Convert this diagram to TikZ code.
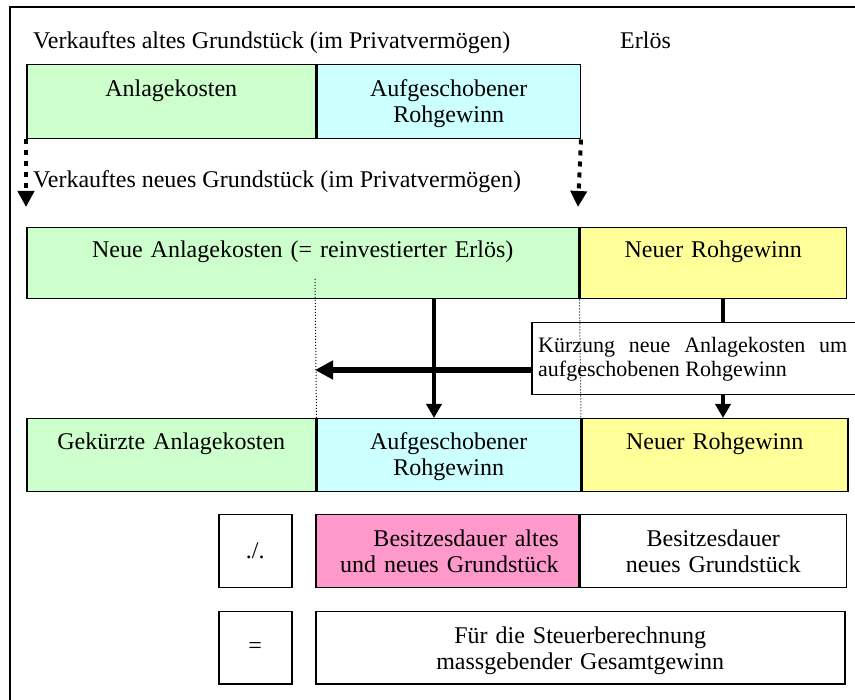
\documentclass[tikz,border=0pt]{standalone}
\usepackage{fontspec}
\setmainfont{Liberation Serif}
\usetikzlibrary{arrows.meta}
\usetikzlibrary{positioning}
\definecolor{gruen}{RGB}{204,255,204}
\definecolor{tuerkis}{RGB}{204,255,255}
\definecolor{gelb}{RGB}{255,255,153}
\definecolor{rosa}{RGB}{255,153,204}
\tikzset{cell/.style = {draw, line width = 1.5pt, inner sep = 0, anchor = north west}}
\tikzset{lbl/.style = {inner sep = 0, anchor = base, align = center, text width = 250pt}}
\tikzset{arr/.style = {line width = 4pt, -{Triangle[width = 15pt, length = 14pt]}}}
\tikzset{bigarr/.style = {line width = 6pt, -{Triangle[width = 18pt, length = 18pt]}}}
\tikzset{dotarr/.style = {line width = 4pt, dash pattern = on 5pt off 6pt, -{Triangle[width = 16pt, length = 16pt]}}}

\begin{document}
\begin{tikzpicture}[x = 1pt, y = -1pt, font = \fontsize{24}{26}\selectfont]
    \useasboundingbox (0, 0) rectangle (855, 700);
    \draw[line width = 2.4pt] (10, 7) rectangle (880, 720);
    \node[inner sep = 0, anchor = base west] (alt) at (33, 49) {Verkauftes altes Grundstück (im Privatvermögen)};
    \node[inner sep = 0, anchor = base west] (erloes) at (620, 49) {Erlös};
    \node[inner sep = 0, anchor = base west] (neu) at (33, 188) {Verkauftes neues Grundstück (im Privatvermögen)};
    \node[cell, fill = gruen, minimum width = 289pt, minimum height = 74pt] (alt1) at (26, 64) {};
    \node[cell, fill = tuerkis, minimum width = 263pt, minimum height = 74pt] (alt2) at (alt1.north east) {};
    \node[cell, fill = gruen, minimum width = 552pt, minimum height = 71pt] (neu1) at (26, 227) {};
    \node[cell, fill = gelb, minimum width = 266pt, minimum height = 71pt] (neu2) at (neu1.north east) {};
    \node[cell, fill = gruen, minimum width = 289pt, minimum height = 73pt] (kurz1) at (26, 418) {};
    \node[cell, fill = tuerkis, minimum width = 263pt, minimum height = 73pt] (kurz2) at (kurz1.north east) {};
    \node[cell, fill = gelb, minimum width = 266pt, minimum height = 73pt] (kurz3) at (kurz2.north east) {};
    \node[cell, minimum width = 73pt, minimum height = 73pt] (minus) at (218, 514) {./.};
    \node[cell, fill = rosa, minimum width = 263pt, minimum height = 73pt] (dauer1) at (315, 514) {};
    \node[cell, minimum width = 266pt, minimum height = 73pt] (dauer2) at (dauer1.north east) {};
    \node[cell, minimum width = 73pt, minimum height = 72pt] (gleich) at (218, 611) {=};
    \node[cell, minimum width = 529pt, minimum height = 72pt] (total) at (315, 611) {};
    \node[cell, fill = white, minimum width = 340pt, minimum height = 72pt] (kuerz) at (531, 322) {};
    \node[lbl] (alt1t) at ([yshift = -33pt]alt1.north) {Anlagekosten};
    \node[lbl] (alt2t) at ([yshift = -33pt]alt2.north) {Aufgeschobener\\Rohgewinn};
    \node[lbl, text width = 500pt] (neu1t) at ([yshift = -31pt]neu1.north) {Neue Anlagekosten (= reinvestierter Erlös)};
    \node[lbl] (neu2t) at ([yshift = -31pt]neu2.north) {Neuer Rohgewinn};
    \node[lbl] (kurz1t) at ([yshift = -32pt]kurz1.north) {Gekürzte Anlagekosten};
    \node[lbl] (kurz2t) at ([yshift = -32pt]kurz2.north) {Aufgeschobener\\Rohgewinn};
    \node[lbl] (kurz3t) at ([yshift = -32pt]kurz3.north) {Neuer Rohgewinn};
    \node[lbl, align = right, text width = 223pt] (dauer1t) at ([yshift = -33pt]dauer1.north) {Besitzesdauer altes\\und neues Grundstück};
    \node[lbl] (dauer2t) at ([yshift = -33pt]dauer2.north) {Besitzesdauer\\neues Grundstück};
    \node[lbl, text width = 450pt] (totalt) at ([yshift = -32pt]total.north) {Für die Steuerberechnung\\massgebender Gesamtgewinn};
    \node[lbl, anchor = base west, align = justify, text width = 309pt, font = {\fontsize{22}{24}\selectfont\tolerance = 10000}] (kuerzt) at ([xshift = 7pt, yshift = -31pt]kuerz.north west) {Kürzung neue Anlagekosten um aufgeschobenen Rohgewinn};
    \coordinate (p1) at (26, 207);
    \coordinate (p2) at (578, 207);
    \foreach \a/\b in {alt1.south west/p1, alt2.south east/p2}{
      \draw[dotarr] (\a) -- (\b);
    }
    \coordinate (d1) at (315, 279);
    \draw[line width = 1pt, dash pattern = on 1pt off 2pt] (d1) -- (kurz2.north west);
    \draw[line width = 1pt, dash pattern = on 1pt off 2pt] (neu2.south west) -- (kurz3.north west);
    \coordinate (m) at (434, 0);
    \coordinate (r) at (723, 0);
    \coordinate (h) at (315, 370);
    \draw[arr] (neu1.south -| m) -- (kurz2.north -| m);
    \draw[line width = 4pt] (neu2.south -| r) -- (kuerz.north -| r);
    \draw[arr] (kuerz.south -| r) -- (kurz3.north -| r);
    \draw[bigarr] (kuerz.west |- h) -- (h);
  \end{tikzpicture}
\end{document}
